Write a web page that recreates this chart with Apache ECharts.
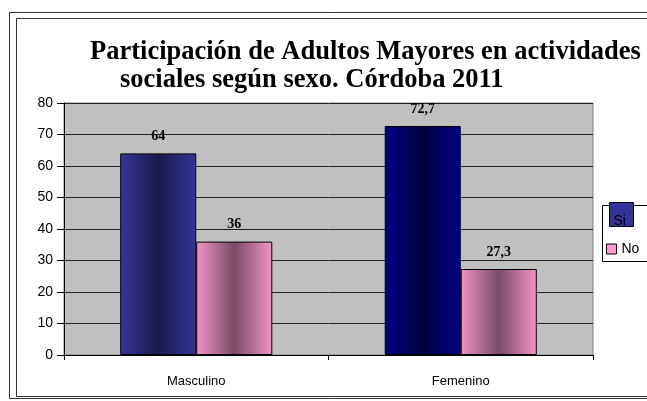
<!DOCTYPE html>
<html>
<head>
<meta charset="utf-8">
<script src="https://cdn.jsdelivr.net/npm/echarts@6/dist/echarts.min.js"></script>
<style>
  html, body { margin: 0; padding: 0; background: #fff; }
  #main { width: 647px; height: 401px; }
</style>
</head>
<body>
<div id="main"></div>
<script>
// datos
const categorias = ['Masculino', 'Femenino']
const valoresSi = [64, 72.7]
const valoresNo = [36, 27.3]
const ticksY = { min: 0, max: 80, interval: 10 }

// degradado horizontal: borde claro, centro oscuro
function degradado (borde, centro) {
  return new echarts.graphic.LinearGradient(0, 0, 1, 0, [
    { offset: 0, color: borde },
    { offset: 0.5, color: centro },
    { offset: 1, color: borde }
  ])
}

// cada barra "Si" tiene un tono distinto en el original
const coloresSi = [degradado('#34349a', '#1a1a4a'), degradado('#000084', '#00003c')]
const colorNo = degradado('#f293c6', '#7a4b67')

const etiqueta = {
  show: true,
  position: 'top',
  distance: 10,
  fontFamily: 'Liberation Serif',
  fontWeight: 'bold',
  fontSize: 14,
  color: '#000',
  formatter: (p) => String(p.value).replace('.', ',')
}

const fuenteTitulo = { fontFamily: 'Liberation Serif', fontWeight: 'bold', fontSize: 26.5, color: '#000' }

let myChart = echarts.init(document.getElementById('main'))
myChart.setOption({
  backgroundColor: '#fff',
  animation: false,
  title: [
    {
      text: 'Participación de Adultos Mayores en actividades',
      left: 90,
      top: 39,
      padding: 0,
      textStyle: fuenteTitulo
    },
    {
      text: 'sociales según sexo. Córdoba 2011',
      left: 120,
      top: 67,
      padding: 0,
      textStyle: fuenteTitulo
    }
  ],
  // marcos dobles y caja de la leyenda
  graphic: [
    { type: 'rect', shape: { x: 9.5, y: 12.5, width: 660, height: 386 }, style: { fill: 'none', stroke: '#333', lineWidth: 1 }, z: -1 },
    { type: 'rect', shape: { x: 16.5, y: 18.5, width: 660, height: 378 }, style: { fill: 'none', stroke: '#333', lineWidth: 1 }, z: -1 },
    { type: 'rect', shape: { x: 602.5, y: 205.5, width: 60, height: 56 }, style: { fill: '#fff', stroke: '#000', lineWidth: 1 }, z: 0 }
  ],
  legend: [
    {
      data: [{ name: 'Si', icon: 'rect', itemStyle: { color: '#333399', borderColor: '#000', borderWidth: 1 } }],
      left: 609,
      top: 202,
      padding: 0,
      itemWidth: 24,
      itemHeight: 24,
      formatter: '{s|{name}}',
      textStyle: {
        fontFamily: 'Liberation Sans',
        fontSize: 14,
        color: '#000',
        rich: { s: { fontFamily: 'Liberation Sans', fontSize: 14, color: '#000', padding: [14, 0, 0, -25] } }
      },
      z: 5
    },
    {
      data: [{ name: 'No', icon: 'rect', itemStyle: { color: '#ff99cc', borderColor: '#000', borderWidth: 1 } }],
      left: 606,
      top: 242,
      padding: 0,
      itemWidth: 10,
      itemHeight: 10,
      itemGap: 3,
      textStyle: { fontFamily: 'Liberation Sans', fontSize: 14, color: '#000' },
      z: 5
    }
  ],
  grid: {
    left: 64,
    top: 103,
    right: 54,
    bottom: 46,
    show: true,
    backgroundColor: '#c0c0c0',
    borderColor: '#808080',
    borderWidth: 1
  },
  xAxis: {
    type: 'category',
    data: categorias,
    axisLine: { lineStyle: { color: '#000', width: 1 } },
    axisTick: { show: true, length: 5, lineStyle: { color: '#000' } },
    axisLabel: { fontFamily: 'Liberation Sans', fontSize: 13, color: '#000', margin: 20 }
  },
  yAxis: {
    type: 'value',
    min: ticksY.min,
    max: ticksY.max,
    interval: ticksY.interval,
    axisLine: { show: true, lineStyle: { color: '#000', width: 1 } },
    axisTick: { show: true, length: 7, lineStyle: { color: '#000' } },
    axisLabel: { fontFamily: 'Liberation Sans', fontSize: 14, color: '#000', margin: 11 },
    splitLine: { lineStyle: { color: '#222', width: 1 } }
  },
  series: [
    {
      name: 'Si',
      type: 'bar',
      barGap: '0%',
      barCategoryGap: '42.5%',
      data: valoresSi.map((v, i) => ({
        value: v,
        itemStyle: { color: coloresSi[i], borderColor: '#000', borderWidth: 1 }
      })),
      label: etiqueta
    },
    {
      name: 'No',
      type: 'bar',
      data: valoresNo,
      itemStyle: { color: colorNo, borderColor: '#000', borderWidth: 1 },
      label: etiqueta
    }
  ]
})
</script>
</body>
</html>
